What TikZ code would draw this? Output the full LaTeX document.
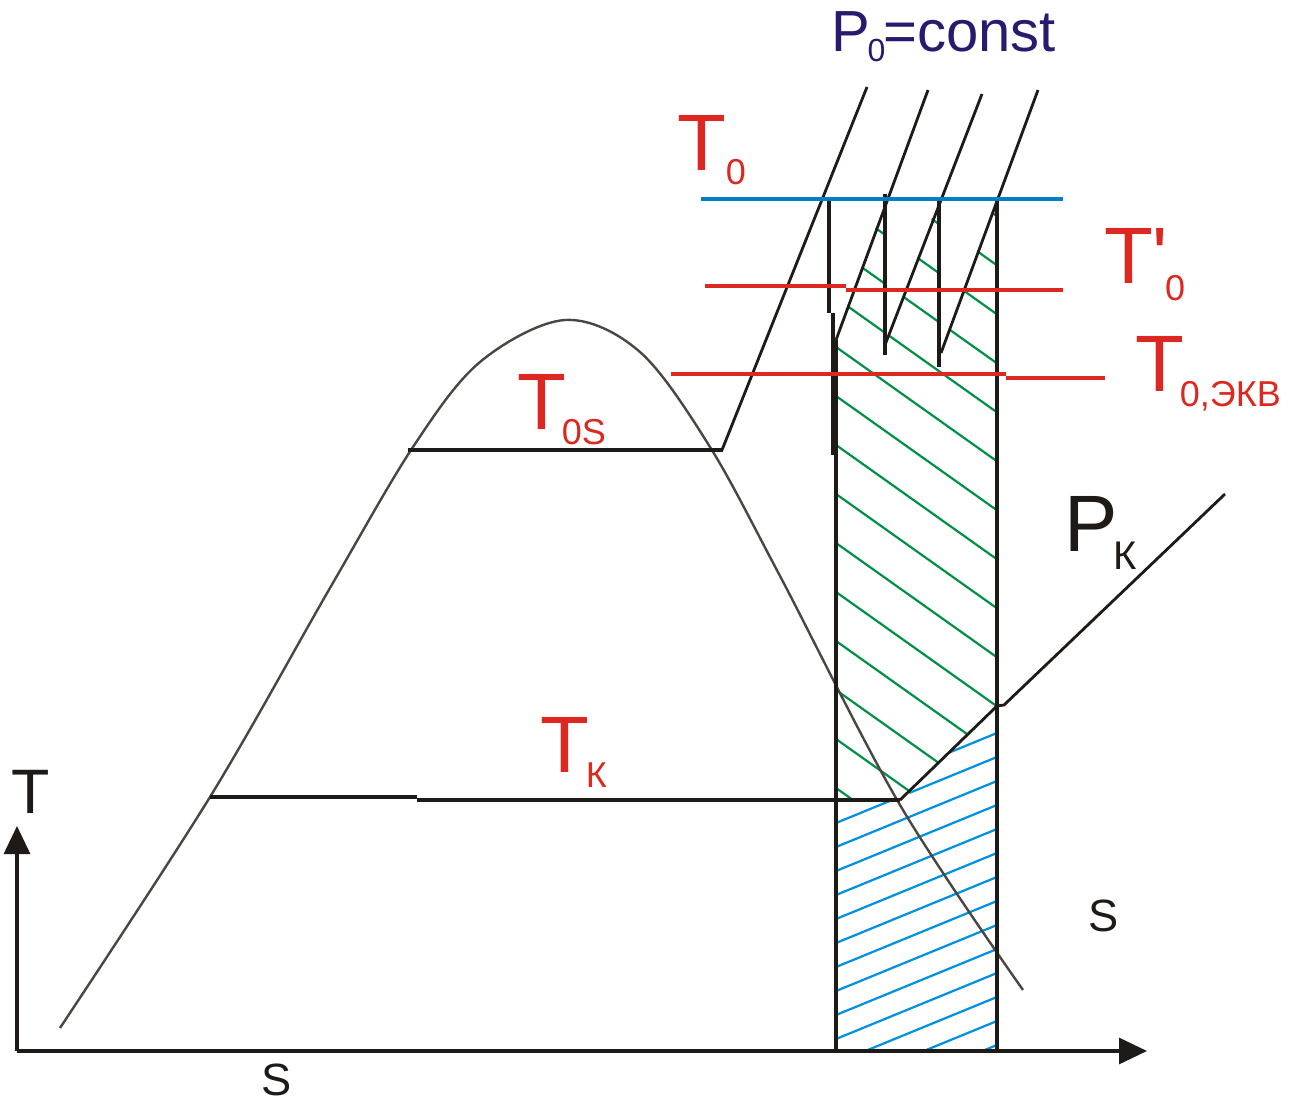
\documentclass[tikz,border=0pt]{standalone}
\usepackage{fontspec}
\setmainfont{Liberation Sans}
\usetikzlibrary{arrows.meta}
\definecolor{ink}{HTML}{1E1A17}
\definecolor{domegrey}{HTML}{4A4642}
\definecolor{redl}{HTML}{DC2820}
\definecolor{bluel}{HTML}{007DC3}
\definecolor{hblue}{HTML}{0090E0}
\definecolor{hgreen}{HTML}{009146}
\definecolor{indigo}{HTML}{2A1A6E}
\newcommand{\subsc}[3]{\kern#1\raisebox{-#2}{\fontsize{18}{18}\selectfont #3}}
\tikzset{
  blk/.style={draw=ink, line width=1.6pt},
  iso/.style={draw=ink, line width=1.4pt},
  dome/.style={draw=domegrey, line width=1.2pt},
  redline/.style={draw=redl, line width=1.6pt},
  blueline/.style={draw=bluel, line width=1.6pt},
  hatchg/.style={draw=hgreen, line width=1.1pt},
  hatchb/.style={draw=hblue, line width=1.1pt},
  lbl/.style={inner sep=0pt, outer sep=0pt, anchor=base west},
  bigT/.style={lbl, text=redl, font=\fontsize{40}{40}\selectfont},
  axlbl/.style={lbl, text=ink, font=\fontsize{22.6}{23}\selectfont},
  axarrow/.style={-{Triangle[length=14pt,width=13pt]}}
}
\begin{document}
\begin{tikzpicture}[x=0.5pt,y=-0.5pt]
\useasboundingbox (0,0) rectangle (1291,1102);

% ---- hatching (drawn first) ----
\begin{scope}
  \clip (836,343) -- (886,198) -- (886,346) -- (939,198) -- (939,355) -- (997,198)
        -- (997,706) -- (903,800) -- (836,800) -- cycle;
  \foreach \k in {-6,...,10} {
    \draw[hatchg] (830,{347+49*\k-0.71*6}) -- (1000,{347+49*\k+0.71*164});
  }
\end{scope}
\begin{scope}
  \clip (836,800) -- (903,800) -- (997,706) -- (997,1051) -- (836,1051) -- cycle;
  \foreach \k in {-1,...,14} {
    \draw[hatchb] (830,{823+24*\k+0.41*6}) -- (1000,{823+24*\k-0.41*164});
  }
\end{scope}

% ---- saturation dome ----
\draw[dome] plot[smooth, tension=0.55] coordinates {
  (60,1028) (210,797) (330,588) (413,447) (480,362) (565,320)
  (640,352) (710,447) (780,576) (900,805) (1023,990)};

% ---- axes ----
\draw[blk, axarrow] (17,1051) -- (17,826);
\draw[blk, axarrow] (17,1051) -- (1147,1051);

% ---- constant temperature lines ----
\draw[blk] (408,450) -- (723,450);
\draw[blk] (210,797) -- (417,797);
\draw[blk] (417,800) -- (900,800);

% ---- isobars P0 ----
\draw[iso] (867,87) -- (722,450);
\draw[iso] (928,90) -- (836,340);
\draw[iso] (982,94) -- (885,345);
\draw[iso] (1038,90) -- (941,353);

% ---- verticals ----
\draw[blk] (829,198) -- (829,313);
\draw[blk] (833,313) -- (833,455);
\draw[blk] (836,340) -- (836,1051);
\draw[blk] (885,194) -- (885,355);
\draw[blk] (939,197) -- (939,367);
\draw[blk] (997,198) -- (997,1051);

% ---- isobar Pk ----
\draw[iso] (900,800) -- (997,706) -- (1004,705) -- (1225,494);

% ---- coloured isotherms ----
\draw[blueline] (701,199) -- (1063,199);
\draw[redline] (705,286) -- (846,286);
\draw[redline] (846,290) -- (1063,290);
\draw[redline] (671,374) -- (1006,374);
\draw[redline] (1006,378) -- (1105,378);

% ---- labels ----
\node[lbl, text=indigo, font=\fontsize{29}{29}\selectfont] (P0) at (831,52)
  {P\kern-1pt\raisebox{-5pt}{\fontsize{16}{16}\selectfont 0}\kern-1pt=const};

\node[bigT] (T0) at (677,170) {T\subsc{0pt}{7pt}{0}};
\node[bigT] (T0p) at (1104,283) {T\textquotesingle\subsc{-1.5pt}{8.5pt}{0}};
\node[bigT] (T0e) at (1135,391) {T\subsc{-2pt}{7.5pt}{0,ЭКВ}};
\node[bigT] (T0s) at (517,429) {T\subsc{-2pt}{7.5pt}{0S}};
\node[bigT] (Tk) at (540,772) {T\subsc{-1.5pt}{7.5pt}{К}};

\node[lbl, text=ink, font=\fontsize{40}{40}\selectfont] (Pk) at (1064,551)
  {P\kern-2pt\raisebox{-9pt}{\fontsize{20}{20}\selectfont К}};

\node[lbl, text=ink, font=\fontsize{31.4}{32}\selectfont] (Tax) at (11,813) {T};
\node[axlbl] (Sax) at (261,1095) {S};
\node[axlbl] (Sright) at (1088,931) {S};
\end{tikzpicture}
\end{document}
